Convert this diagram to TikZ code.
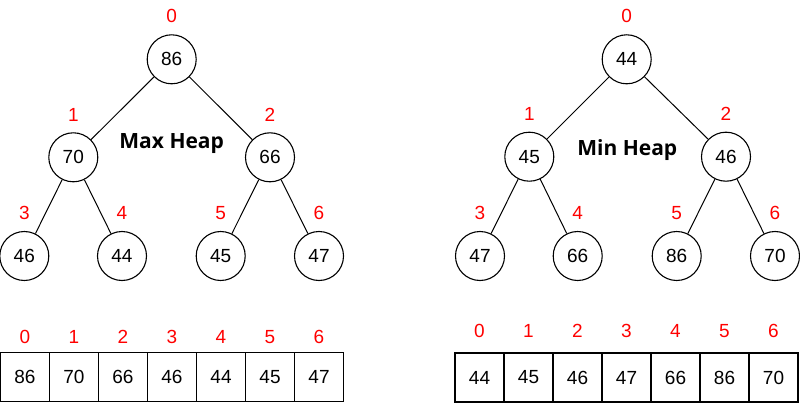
\documentclass[tikz,border=0pt]{standalone}
\usepackage{fontspec}
\setmainfont{Liberation Sans}
\newfontfamily\headfont{Open Sans}
\usetikzlibrary{positioning}

\begin{document}
\begin{tikzpicture}[x=1pt,y=-1pt,
    heapnode/.style={circle,draw,line width=1.1pt,minimum size=49pt,inner sep=0pt,font=\fontsize{19}{19}\selectfont},
    cell/.style={draw,line width=1.1pt,minimum width=49pt,minimum height=49pt,inner sep=0pt,font=\fontsize{19}{19}\selectfont},
    idx/.style={text=red,inner sep=0pt,font=\fontsize{19}{19}\selectfont},
    heaptitle/.style={anchor=base,font=\headfont\bfseries\fontsize{21}{21}\selectfont},
    edge/.style={line width=1pt}]
\useasboundingbox (0,0) rectangle (800,409);

% max heap
\foreach \val/\px/\py [count=\i from 0] in {86/171.7/59.3,70/73.3/157.3,66/270/157.3,46/24.3/256,44/122/256,45/220.7/256,47/319/256}
    \node[heapnode] (max\i) at (\px,\py) {\val};
\foreach \i in {0,...,6}
    \node[idx,above=11pt of max\i] (maxidx\i) {\i};
\foreach \p/\c in {0/1,0/2,1/3,1/4,2/5,2/6}
    \draw[edge] (max\p) -- (max\c);
\node[heaptitle] (maxtitle) at (171.7,148.3) {Max Heap};

\foreach \val [count=\i from 0] in {86,70,66,46,44,45,47}
    \node[cell] (maxcell\i) at (25+49*\i,377.2) {\val};
\foreach \i in {0,...,6}
    \node[idx,above=8pt of maxcell\i] (maxcellidx\i) {\i};

% min heap
\foreach \val/\px/\py [count=\i from 0] in {44/626.7/59.3,45/529.3/156.7,46/726/156.7,47/480/256,66/577.7/256,86/676.7/256,70/775/256}
    \node[heapnode] (min\i) at (\px,\py) {\val};
\foreach \i in {0,...,6}
    \node[idx,above=11pt of min\i] (minidx\i) {\i};
\foreach \p/\c in {0/1,0/2,1/3,1/4,2/5,2/6}
    \draw[edge] (min\p) -- (min\c);
\node[heaptitle] (mintitle) at (627.3,155) {Min Heap};

\foreach \val [count=\i from 0] in {44,45,46,47,66,86,70}
    \node[cell] (mincell\i) at (479.5+49*\i,377.5) {\val};
\foreach \i in {0,...,6}
    \node[idx,above=15pt of mincell\i] (mincellidx\i) {\i};
\end{tikzpicture}
\end{document}
